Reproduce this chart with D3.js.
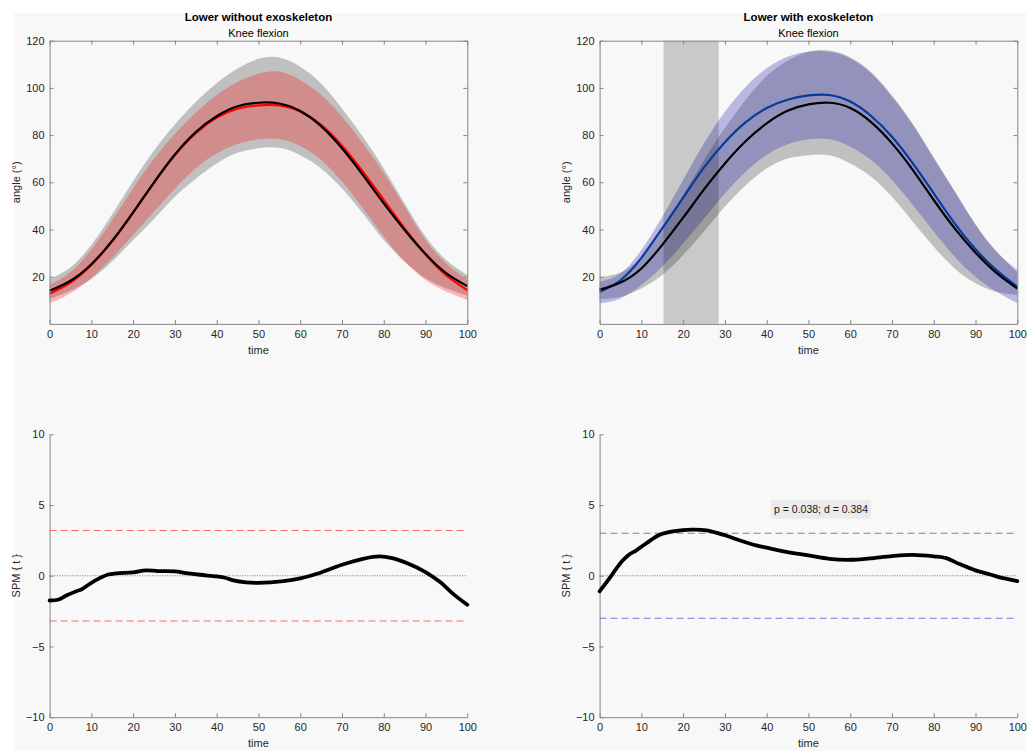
<!DOCTYPE html>
<html>
<head>
<meta charset="utf-8">
<script src="https://cdn.jsdelivr.net/npm/d3@7"></script>
<style>
  body { margin: 0; background: #ffffff; }
  text { font-family: "Liberation Sans", Arial, Helvetica, sans-serif; }
</style>
</head>
<body>
<div id="chart"></div>
<script>
// normalised gait cycle (%)
var time = [0, 5, 10, 15, 20, 25, 30, 35, 40, 45, 50, 55, 60, 65, 70, 75, 80, 85, 90, 95, 100];

// Lower without exoskeleton - reference (black) and without exo (red)
var refMeanA = [14, 18.3, 25.3, 35.3, 47.3, 60, 71.8, 81.3, 88, 92.2, 93.7, 93.4, 90.2, 83.8, 74.4, 63.1, 51.1, 39.8, 29.6, 21.4, 16];
var refUpA = [18.9, 24, 33.5, 46.5, 60.5, 73.5, 84.5, 94, 102, 108.2, 112.3, 112.9, 109, 101.9, 91.3, 79.3, 65.9, 51, 37, 27, 20.7];
var refLoA = [10.5, 14, 19, 26.5, 35.5, 44.5, 53.9, 61.5, 68, 72.5, 74.4, 74.6, 71.5, 65.9, 57.4, 46.8, 35.5, 26.4, 19.3, 15, 12];
var noExoMean = [12.8, 17.5, 25, 35, 47.2, 59.8, 71.5, 80.8, 87.4, 91.2, 92.6, 92.6, 90, 84.3, 75.5, 64.5, 52.5, 40.5, 29.5, 20.5, 14.3];
var noExoUp = [16.5, 22, 31.5, 44, 57.5, 70, 80.5, 89.5, 97, 102.5, 106, 106.9, 103.3, 97, 87.8, 76.5, 63.8, 49.7, 35.5, 25.5, 18.6];
var noExoLo = [8.7, 13, 19.5, 28, 37.7, 47.5, 57.4, 66, 72.2, 76.2, 78.2, 78.3, 75.4, 69.5, 60.3, 49, 37, 26.4, 18.6, 13.6, 10.1];

// Lower with exoskeleton - reference (black) and with exo (blue)
var refMeanB = [14.5, 17.5, 23.5, 33.5, 45, 57, 68, 77.5, 85, 90.3, 93, 93.7, 91.5, 85.5, 76.5, 65.2, 52.5, 40.5, 30.2, 21.6, 15];
var refUpB = [19.8, 21.8, 28, 39.5, 54.5, 69.5, 83, 95, 105, 111.5, 115.3, 115.8, 113, 106.7, 96.8, 84.8, 70.6, 56.4, 42.2, 30.8, 21.8];
var refLoB = [10.5, 11.5, 15, 20.7, 29.2, 39.1, 49.7, 58.8, 65.9, 70.1, 71.5, 71.5, 68, 62.4, 53.9, 43.3, 32.7, 23.5, 17.2, 13.6, 12.2];
var exoMean = [13.5, 18.5, 28, 40.5, 53.5, 66.3, 77, 85.5, 91.5, 95, 96.8, 97, 94.2, 88.1, 79.3, 68, 55.3, 42.6, 31.6, 22.8, 15.8];
var exoUp = [17.9, 21.4, 31.3, 45.4, 61, 76.5, 89.9, 100.5, 108.3, 113.2, 115.3, 115.3, 112.5, 106.2, 96.3, 84.3, 70.1, 56, 41.9, 30.6, 22.8];
var exoLo = [8.7, 10.8, 16.5, 24.2, 34.1, 44.7, 55.3, 64.5, 71.6, 76.1, 78.2, 78.3, 75.1, 69.4, 61, 50.4, 39.1, 28.5, 20, 13.6, 8.7];

// significant cluster (with exo)
var cluster = [15.3, 28.5];

// SPM{t} curves
var spmTimeA = [0, 2, 4, 6.4, 7.6, 10, 12, 14, 16, 20, 23, 26, 30, 32.7, 36, 40, 42, 44, 47, 50, 56, 60, 64, 68, 70, 75, 79, 82, 85.5, 90, 93.5, 96.6, 100];
var spmA = [-1.75, -1.7, -1.4, -1.09, -0.97, -0.5, -0.17, 0.09, 0.17, 0.24, 0.38, 0.33, 0.31, 0.19, 0.07, -0.05, -0.14, -0.33, -0.47, -0.5, -0.38, -0.19, 0.14, 0.57, 0.78, 1.2, 1.37, 1.25, 0.9, 0.26, -0.45, -1.28, -2.05];
var spmTimeB = [0, 2, 4, 5.2, 6.8, 8.8, 11.2, 14.4, 18, 22, 25.6, 30, 34, 37.5, 40, 44, 50, 55, 60, 64.7, 70, 75, 80, 83, 86, 90, 93.5, 96.6, 100];
var spmB = [-1.1, -0.33, 0.5, 0.97, 1.44, 1.8, 2.3, 2.9, 3.16, 3.26, 3.21, 2.86, 2.46, 2.15, 1.99, 1.73, 1.44, 1.2, 1.13, 1.23, 1.39, 1.47, 1.37, 1.25, 0.85, 0.38, 0.09, -0.17, -0.38];
var thrA = 3.2, thrB = 3.0;
var annotB = "p = 0.038; d = 0.384";

var xTicks = [0, 10, 20, 30, 40, 50, 60, 70, 80, 90, 100];
var angTicks = [20, 40, 60, 80, 100, 120];
var spmTicks = [-10, -5, 0, 5, 10];

var width = 1036, height = 751;

var svg = d3.select("#chart")
  .append("svg")
  .attr("width", width)
  .attr("height", height);

// figure background
svg.append("rect")
  .attr("x", 14).attr("y", 13)
  .attr("width", 1012).attr("height", height - 13)
  .attr("fill", "#f8f8f8");

// scales
var xA = d3.scaleLinear().domain([0, 100]).range([49.6, 467.3]);
var xB = d3.scaleLinear().domain([0, 100]).range([599.6, 1017.3]);
var yAng = d3.scaleLinear().domain([0, 120]).range([323.9, 40.7]);
var ySpm = d3.scaleLinear().domain([-10, 10]).range([717.2, 434.3]);

function styleAxis(g) {
  g.attr("font-size", null).attr("font-family", null);
  g.select(".domain").attr("stroke", "#858585");
  g.selectAll(".tick line").attr("stroke", "#858585");
  g.selectAll(".tick text").attr("fill", "#262626").style("font-size", "11px");
}

function band(x, lo, up) {
  return d3.area()
    .curve(d3.curveNatural)
    .x(function(d, i) { return x(time[i]); })
    .y0(function(d, i) { return yAng(lo[i]); })
    .y1(function(d, i) { return yAng(up[i]); })(time);
}

function meanLine(x, vals) {
  return d3.line()
    .curve(d3.curveNatural)
    .x(function(d, i) { return x(time[i]); })
    .y(function(d, i) { return yAng(vals[i]); })(time);
}

function titles(x, title) {
  svg.append("text")
    .attr("x", x(50)).attr("y", 21)
    .attr("text-anchor", "middle")
    .style("font-size", "11.5px").style("font-weight", "bold")
    .attr("fill", "#000")
    .text(title);
  svg.append("text")
    .attr("x", x(50)).attr("y", 36.5)
    .attr("text-anchor", "middle")
    .style("font-size", "11px")
    .attr("fill", "#000")
    .text("Knee flexion");
}

function axisLabels(x, y, ylab, xlabY) {
  svg.append("text")
    .attr("x", x(50)).attr("y", xlabY)
    .attr("text-anchor", "middle")
    .style("font-size", "11px").attr("fill", "#262626")
    .text("time");
  svg.append("text")
    .attr("transform", "translate(" + (x.range()[0] - 29.6) + "," + y + ") rotate(-90)")
    .attr("text-anchor", "middle")
    .style("font-size", "11px").attr("fill", "#262626")
    .text(ylab);
}

// box axes for the angle panels
function angleAxes(x) {
  svg.append("g")
    .attr("transform", "translate(0," + yAng(0) + ")")
    .call(d3.axisBottom(x).tickValues(xTicks).tickSizeInner(-4).tickSizeOuter(0).tickPadding(6))
    .call(styleAxis);
  svg.append("g")
    .attr("transform", "translate(0," + yAng(120) + ")")
    .call(d3.axisTop(x).tickValues(xTicks).tickSizeInner(-4).tickSizeOuter(0).tickFormat(""))
    .call(styleAxis);
  svg.append("g")
    .attr("transform", "translate(" + x(0) + ",0)")
    .call(d3.axisLeft(yAng).tickValues(angTicks).tickSizeInner(-4).tickSizeOuter(0).tickPadding(5))
    .call(styleAxis);
  svg.append("g")
    .attr("transform", "translate(" + x(100) + ",0)")
    .call(d3.axisRight(yAng).tickValues(angTicks).tickSizeInner(-4).tickSizeOuter(0).tickFormat(""))
    .call(styleAxis);
}

// ---------- top left: without exoskeleton ----------
svg.append("path").attr("d", band(xA, refLoA, refUpA)).attr("fill", "#c0c0c0");
svg.append("path").attr("d", band(xA, noExoLo, noExoUp)).attr("fill", "#ff0000").attr("fill-opacity", 0.27);
svg.append("path").attr("d", meanLine(xA, noExoMean)).attr("fill", "none").attr("stroke", "#ff0000").attr("stroke-width", 2.2);
svg.append("path").attr("d", meanLine(xA, refMeanA)).attr("fill", "none").attr("stroke", "#000").attr("stroke-width", 2.2);
angleAxes(xA);
titles(xA, "Lower without exoskeleton");
axisLabels(xA, yAng(60), "angle (°)", 354);

// ---------- top right: with exoskeleton ----------
svg.append("path").attr("d", band(xB, refLoB, refUpB)).attr("fill", "#c0c0c0");
svg.append("path").attr("d", band(xB, exoLo, exoUp)).attr("fill", "#3232b9").attr("fill-opacity", 0.32);
svg.append("rect")
  .attr("x", xB(cluster[0])).attr("y", yAng(120))
  .attr("width", xB(cluster[1]) - xB(cluster[0]))
  .attr("height", yAng(0) - yAng(120))
  .attr("fill", "#000").attr("fill-opacity", 0.19);
svg.append("path").attr("d", meanLine(xB, exoMean)).attr("fill", "none").attr("stroke", "#08399c").attr("stroke-width", 2.2);
svg.append("path").attr("d", meanLine(xB, refMeanB)).attr("fill", "none").attr("stroke", "#000").attr("stroke-width", 2.2);
angleAxes(xB);
titles(xB, "Lower with exoskeleton");
axisLabels(xB, yAng(60), "angle (°)", 354);

// ---------- SPM panels ----------
function spmPanel(x, ts, vals, thr, thrColor) {
  svg.append("g")
    .attr("transform", "translate(0," + ySpm(-10) + ")")
    .call(d3.axisBottom(x).tickValues(xTicks).tickSizeInner(-4).tickSizeOuter(0).tickPadding(6))
    .call(styleAxis);
  svg.append("g")
    .attr("transform", "translate(" + x(0) + ",0)")
    .call(d3.axisLeft(ySpm).tickValues(spmTicks).tickSizeInner(-4).tickSizeOuter(0).tickPadding(5))
    .call(styleAxis);

  // zero line
  svg.append("line")
    .attr("x1", x(0)).attr("x2", x(100))
    .attr("y1", ySpm(0)).attr("y2", ySpm(0))
    .attr("stroke", "#6a6a6a").attr("stroke-width", 0.9)
    .attr("stroke-dasharray", "1,1.5");

  // thresholds
  [thr, -thr].forEach(function(t) {
    svg.append("line")
      .attr("x1", x(0)).attr("x2", x(100))
      .attr("y1", ySpm(t)).attr("y2", ySpm(t))
      .attr("stroke", thrColor).attr("stroke-width", 1.1)
      .attr("stroke-dasharray", "7,4");
  });

  var line = d3.line()
    .curve(d3.curveCatmullRom)
    .x(function(d, i) { return x(ts[i]); })
    .y(function(d, i) { return ySpm(vals[i]); });

  svg.append("path")
    .attr("d", line(ts))
    .attr("fill", "none")
    .attr("stroke", "#000")
    .attr("stroke-width", 3.8)
    .attr("stroke-linecap", "round")
    .attr("stroke-linejoin", "round");

  axisLabels(x, ySpm(0), "SPM { t }", 747);
}

spmPanel(xA, spmTimeA, spmA, thrA, "#ff6a6a");
spmPanel(xB, spmTimeB, spmB, thrB, "#6c7ede");

// annotation box
var annot = svg.append("g").attr("transform", "translate(" + xB(53) + "," + ySpm(4.7) + ")");
annot.append("rect")
  .attr("x", -50).attr("y", -9.5)
  .attr("width", 100).attr("height", 19)
  .attr("fill", "#ebebeb");
annot.append("text")
  .attr("text-anchor", "middle")
  .attr("dy", "0.35em")
  .style("font-size", "10.5px")
  .attr("fill", "#1a1a1a")
  .text(annotB);
</script>
</body>
</html>
